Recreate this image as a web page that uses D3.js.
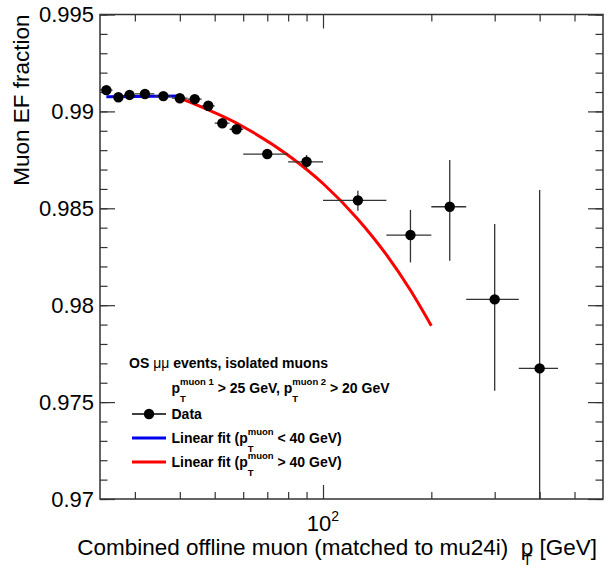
<!DOCTYPE html>
<html>
<head>
<meta charset="utf-8">
<script src="https://cdn.jsdelivr.net/npm/d3@7"></script>
<style>
body { margin:0; background:#fff; }
svg { font-family:"Liberation Sans", Arial, Helvetica, sans-serif; }
</style>
</head>
<body>
<svg id="plot"></svg>
<script>
// bins of offline muon pT [GeV]
var ptCenter = [25, 27, 29, 32, 36, 40, 44, 48, 52.5, 57.5, 70, 90, 125, 175, 225, 300, 400];
var binLow   = [24, 26, 28, 30, 34, 38, 42, 46, 50, 55, 60, 80, 100, 150, 200, 250, 350];
var binHigh  = [26, 28, 30, 34, 38, 42, 46, 50, 55, 60, 80, 100, 150, 200, 250, 350, 450];
var fraction = [0.99110, 0.99073, 0.99085, 0.99090, 0.99079, 0.99068, 0.99063, 0.99029, 0.98939,
                0.98908, 0.98780, 0.98740, 0.98541, 0.98362, 0.98508, 0.98030, 0.97674];
var errUp    = [0.00008, 0.00007, 0.00007, 0.00006, 0.00007, 0.00008, 0.00009, 0.0001, 0.00012,
                0.00013, 0.00012, 0.00035, 0.0005, 0.00129, 0.00241, 0.00389, 0.0092];
var errDown  = [0.00008, 0.00007, 0.00007, 0.00006, 0.00007, 0.00008, 0.00009, 0.0001, 0.00012,
                0.00013, 0.00015, 0.00035, 0.00053, 0.00141, 0.00278, 0.00471, 0.0097];

// fit curves
var lowFitPt  = [25, 40];
var lowFitVal = [0.99076, 0.99080];
var highFitPt  = [40, 60, 80, 100, 125, 150, 175, 200];
var highFitVal = [0.99068, 0.98921, 0.98774, 0.98628, 0.98444, 0.98261, 0.98077, 0.97894];

// axis ticks
var yMajor = [0.97, 0.975, 0.98, 0.985, 0.99, 0.995];
var yTickLabels = ["0.97", "0.975", "0.98", "0.985", "0.99", "0.995"];
var xMinor = [30, 40, 50, 60, 70, 80, 90, 200, 300, 400, 500];
var xMajor = [100];

var screen = {width:608, height:569};
var frame = {left:100, right:603, top:14.5, bottom:499};

var svg = d3.select("#plot")
    .attr("width", screen.width)
    .attr("height", screen.height);

var xScale = d3.scaleLog()
    .domain([24, 600])
    .range([frame.left, frame.right]);

var yScale = d3.scaleLinear()
    .domain([0.97, 0.995])
    .range([frame.bottom, frame.top]);

var ink = "#333";

// helper: text built from pieces, sub/superscripts can stack over each other
var richText = function(g, x, y, parts, weight)
{
    var cursor = 0, prevStart = 0;
    parts.forEach(function(p)
    {
        var start = (p.back ? prevStart : cursor) + (p.dx || 0);
        var t = g.append("text")
            .attr("x", x + start)
            .attr("y", y + (p.shift || 0))
            .attr("font-size", p.size)
            .attr("font-weight", p.weight || weight)
            .attr("fill", "#000")
            .attr("xml:space", "preserve")
            .style("white-space", "pre")
            .text(p.t);
        var w = t.node().getComputedTextLength();
        if (!p.back) { prevStart = start; }
        cursor = Math.max(cursor, start + w);
    });
    return cursor;
}

// axes with ROOT style inward ticks on all four sides
var axes = svg.append("g");
var addAxis = function(axis, tx, ty)
{
    var a = axes.append("g")
        .attr("transform", "translate(" + tx + "," + ty + ")")
        .call(axis);
    a.select(".domain").remove();
    a.selectAll("line").attr("stroke", ink).attr("stroke-width", 1.2);
    return a;
}

addAxis(d3.axisLeft(yScale).tickValues(yScale.ticks(25)).tickSize(-7.5).tickFormat(""), frame.left, 0);
addAxis(d3.axisRight(yScale).tickValues(yScale.ticks(25)).tickSize(-7.5).tickFormat(""), frame.right, 0);
addAxis(d3.axisRight(yScale).tickValues(yMajor).tickSize(-15).tickFormat(""), frame.right, 0);
var yLab = addAxis(d3.axisLeft(yScale).tickValues(yMajor).tickSizeInner(-15).tickSizeOuter(0)
        .tickPadding(6).tickFormat(function(d, i) { return yTickLabels[i]; }), frame.left, 0);
yLab.selectAll("text")
    .attr("font-size", 22)
    .attr("font-family", "Liberation Sans, Arial, sans-serif")
    .attr("fill", "#000");

addAxis(d3.axisBottom(xScale).tickValues(xMinor).tickSize(-7).tickFormat(""), 0, frame.bottom);
addAxis(d3.axisBottom(xScale).tickValues(xMajor).tickSize(-14).tickFormat(""), 0, frame.bottom);
addAxis(d3.axisTop(xScale).tickValues(xMinor).tickSize(-7).tickFormat(""), 0, frame.top);
addAxis(d3.axisTop(xScale).tickValues(xMajor).tickSize(-14).tickFormat(""), 0, frame.top);

// frame
svg.append("rect")
    .attr("x", frame.left)
    .attr("y", frame.top)
    .attr("width", frame.right - frame.left)
    .attr("height", frame.bottom - frame.top)
    .attr("fill", "none")
    .attr("stroke", ink)
    .attr("stroke-width", 1.5);

// 10^2 label
var xLabG = svg.append("g");
var wLab = richText(xLabG, 0, 531, [
    {t:"10", size:22},
    {t:"2", size:14, shift:-10}
], "normal");
xLabG.attr("transform", "translate(" + (xScale(100) - wLab / 2) + ",0)");

// axis titles
var xTitle = svg.append("g");
var wTitle = richText(xTitle, 0, 555, [
    {t:"Combined offline muon (matched to mu24i)  ", size:22.5},
    {t:"p", size:22.5},
    {t:"T", size:15, shift:10, back:true, dx:2},
    {t:" [GeV]", size:22.5}
], "normal");
xTitle.attr("transform", "translate(" + (frame.right - 6 - wTitle) + ",0)");

svg.append("text")
    .attr("transform", "translate(29," + frame.top + ") rotate(-90)")
    .attr("text-anchor", "end")
    .attr("font-size", 22.5)
    .text("Muon EF fraction");

// data layer, clipped to the frame
svg.append("clipPath").attr("id", "clip")
    .append("rect")
    .attr("x", frame.left)
    .attr("y", frame.top)
    .attr("width", frame.right - frame.left)
    .attr("height", frame.bottom - frame.top);

var g = svg.append("g").attr("clip-path", "url(#clip)");

var line = d3.line()
    .x(function(d) { return xScale(d[0]); })
    .y(function(d) { return yScale(d[1]); });

g.append("path")
    .datum(d3.zip(lowFitPt, lowFitVal))
    .attr("d", line)
    .attr("fill", "none")
    .attr("stroke", "#0000ee")
    .attr("stroke-width", 3);

g.append("path")
    .datum(d3.zip(highFitPt, highFitVal))
    .attr("d", line.curve(d3.curveMonotoneX))
    .attr("fill", "none")
    .attr("stroke", "#ff0000")
    .attr("stroke-width", 3);

var points = ptCenter.map(function(pt, i)
{
    return {pt:pt, lo:binLow[i], hi:binHigh[i], v:fraction[i], up:errUp[i], dn:errDown[i]};
});

var bars = g.selectAll("g.point")
    .data(points)
    .enter()
    .append("g")
    .classed("point", true);

bars.append("line")
    .attr("x1", function(d) { return xScale(d.lo); })
    .attr("x2", function(d) { return xScale(d.hi); })
    .attr("y1", function(d) { return yScale(d.v); })
    .attr("y2", function(d) { return yScale(d.v); })
    .attr("stroke", ink)
    .attr("stroke-width", 1.3);

bars.append("line")
    .attr("x1", function(d) { return xScale(d.pt); })
    .attr("x2", function(d) { return xScale(d.pt); })
    .attr("y1", function(d) { return yScale(d.v + d.up); })
    .attr("y2", function(d) { return yScale(d.v - d.dn); })
    .attr("stroke", ink)
    .attr("stroke-width", 1.3);

bars.append("circle")
    .attr("cx", function(d) { return xScale(d.pt); })
    .attr("cy", function(d) { return yScale(d.v); })
    .attr("r", 5.2)
    .attr("fill", "#000");

// legend
var legend = svg.append("g");
richText(legend, 129, 368, [
    {t:"OS ", size:14},
    {t:"\u03bc\u03bc", size:14, weight:"normal"},
    {t:" events, isolated muons", size:14}
], "bold");
richText(legend, 171.5, 393, [
    {t:"p", size:14},
    {t:"T", size:9.5, shift:9},
    {t:"muon 1", size:9.5, shift:-8.5, back:true},
    {t:" > 25 GeV, p", size:14},
    {t:"T", size:9.5, shift:9},
    {t:"muon 2", size:9.5, shift:-8.5, back:true},
    {t:" > 20 GeV", size:14}
], "bold");

var legendRows = [
    {y:414, label:[{t:"Data", size:14}], color:"#000", marker:true, width:1.3},
    {y:438, label:[{t:"Linear fit (p", size:14}, {t:"T", size:9.5, shift:9},
        {t:"muon", size:9.5, shift:-8.5, back:true}, {t:" < 40 GeV)", size:14}], color:"#0000ee", width:3},
    {y:462, label:[{t:"Linear fit (p", size:14}, {t:"T", size:9.5, shift:9},
        {t:"muon", size:9.5, shift:-8.5, back:true}, {t:" > 40 GeV)", size:14}], color:"#ff0000", width:3}
];

legendRows.forEach(function(row)
{
    legend.append("line")
        .attr("x1", 132).attr("x2", 166)
        .attr("y1", row.y).attr("y2", row.y)
        .attr("stroke", row.color)
        .attr("stroke-width", row.width);
    if (row.marker)
    {
        legend.append("circle")
            .attr("cx", 149).attr("cy", row.y)
            .attr("r", 5.2).attr("fill", "#000");
    }
    richText(legend, 171.5, row.y + 5, row.label, "bold");
});
</script>
</body>
</html>
